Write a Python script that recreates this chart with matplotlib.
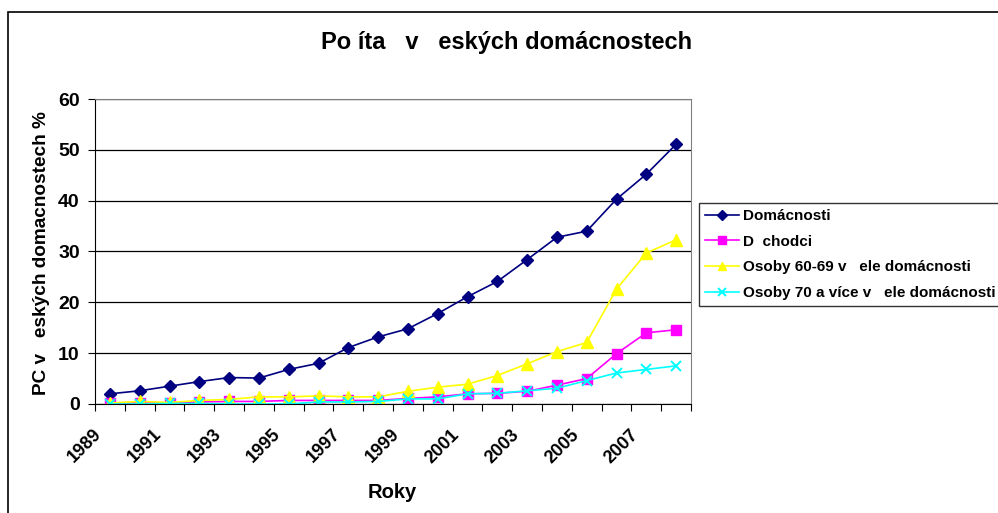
import matplotlib
matplotlib.use("Agg")
import matplotlib.pyplot as plt
from matplotlib.patches import Rectangle
from matplotlib.transforms import ScaledTranslation

plt.rcParams['font.family'] = ['Liberation Sans', 'DejaVu Sans']

years = list(range(1989, 2009))
domacnosti = [2.0, 2.6, 3.5, 4.4, 5.2, 5.1, 6.8, 8.0, 11.1, 13.2,
              14.8, 17.8, 21.1, 24.1, 28.4, 32.8, 34.0, 40.3, 45.2, 51.1]
duchodci = [0.1, 0.2, 0.2, 0.4, 0.5, 0.5, 0.7, 0.7, 0.7, 0.7,
            1.1, 1.4, 2.0, 2.1, 2.5, 3.7, 5.0, 9.9, 14.0, 14.6]
osoby_60_69 = [0.2, 0.5, 0.3, 0.7, 0.9, 1.4, 1.4, 1.6, 1.4, 1.4,
               2.5, 3.3, 3.9, 5.6, 7.9, 10.3, 12.1, 22.6, 29.7, 32.3]
osoby_70 = [0.0, 0.0, 0.1, 0.1, 0.0, 0.0, 0.0, 0.4, 0.4, 0.5,
            1.0, 1.0, 2.0, 2.1, 2.6, 3.1, 4.6, 6.1, 6.8, 7.5]

series_names = ["Domácnosti", "D  chodci", "Osoby 60-69 v   ele domácnosti",
                "Osoby 70 a více v   ele domácnosti"]
tick_labels = [str(y) for y in years[::2]]

fig = plt.figure(figsize=(9.98, 5.13), dpi=100)
ax = fig.add_axes([0.0952, 0.2125, 0.5972, 0.5945])

# outer chart border (right and bottom edges fall outside the picture)
fig.patches.append(Rectangle((8 / 998, -0.1), 1.2, 1 - 12 / 513 + 0.1,
                             transform=fig.transFigure, fill=False,
                             edgecolor='black', linewidth=1.2))

x = list(range(len(years)))
ax.plot(x, domacnosti, color='#000080', marker='D', markersize=6.3, lw=1.2,
        label=series_names[0])
ax.plot(x, duchodci, color='#FF00FF', marker='s', markersize=7, lw=1.2,
        label=series_names[1])
ax.plot(x, osoby_60_69, color='#FFFF00', marker='^', markersize=8, lw=1.2,
        label=series_names[2])
ax.plot(x, osoby_70, color='#00FFFF', marker='x', markersize=7.5, mew=1.4,
        lw=1.2, label=series_names[3])

ax.set_xlim(-0.5, len(years) - 0.5)
ax.set_ylim(0, 60)
ax.set_yticks(range(0, 61, 10))
ax.yaxis.grid(True, color='black', linewidth=0.9)
ax.set_axisbelow(True)

# category boundaries carry the tick marks, labels sit on every 2nd category
ax.set_xticks([i - 0.5 for i in range(len(years) + 1)])
ax.set_xticklabels([])
ax.tick_params(axis='x', length=5, direction='out', color='black')
label_tr = ax.get_xaxis_transform() + ScaledTranslation(-0.105, -0.28, fig.dpi_scale_trans)
for pos, lab in zip(x[::2], tick_labels):
    ax.text(pos, 0, lab, transform=label_tr, rotation=45, ha='right', va='center',
            rotation_mode='anchor', fontsize=13, fontweight='bold')

ax.tick_params(axis='y', length=5, direction='out', labelsize=14, pad=6)
for lbl in ax.get_yticklabels():
    lbl.set_fontweight('bold')

for side in ['top', 'right']:
    ax.spines[side].set_color('#808080')
for side in ['left', 'bottom']:
    ax.spines[side].set_color('black')

fig.text(392 / 998, 1 - 492 / 513, "Roky", ha='center', va='center',
         fontsize=14.5, fontweight='bold')
fig.text(42 / 998, 1 - 253 / 513, "PC v   eských domacnostech %", ha='center',
         va='center', rotation=90, fontsize=13.7, fontweight='bold')
fig.text(507 / 998, 1 - 42 / 513, "Po íta   v   eských domácnostech",
         ha='center', va='center', fontsize=17, fontweight='bold')

ax.legend(loc='upper left', bbox_to_anchor=(699 / 998, 1 - 203 / 513),
          bbox_transform=fig.transFigure, frameon=True, fancybox=False,
          edgecolor='black', prop={'weight': 'bold', 'size': 11},
          handlelength=2.2, handletextpad=0.3, labelspacing=0.76,
          borderpad=0.4, borderaxespad=0, markerscale=0.75)

plt.savefig("out.png", dpi=100)
